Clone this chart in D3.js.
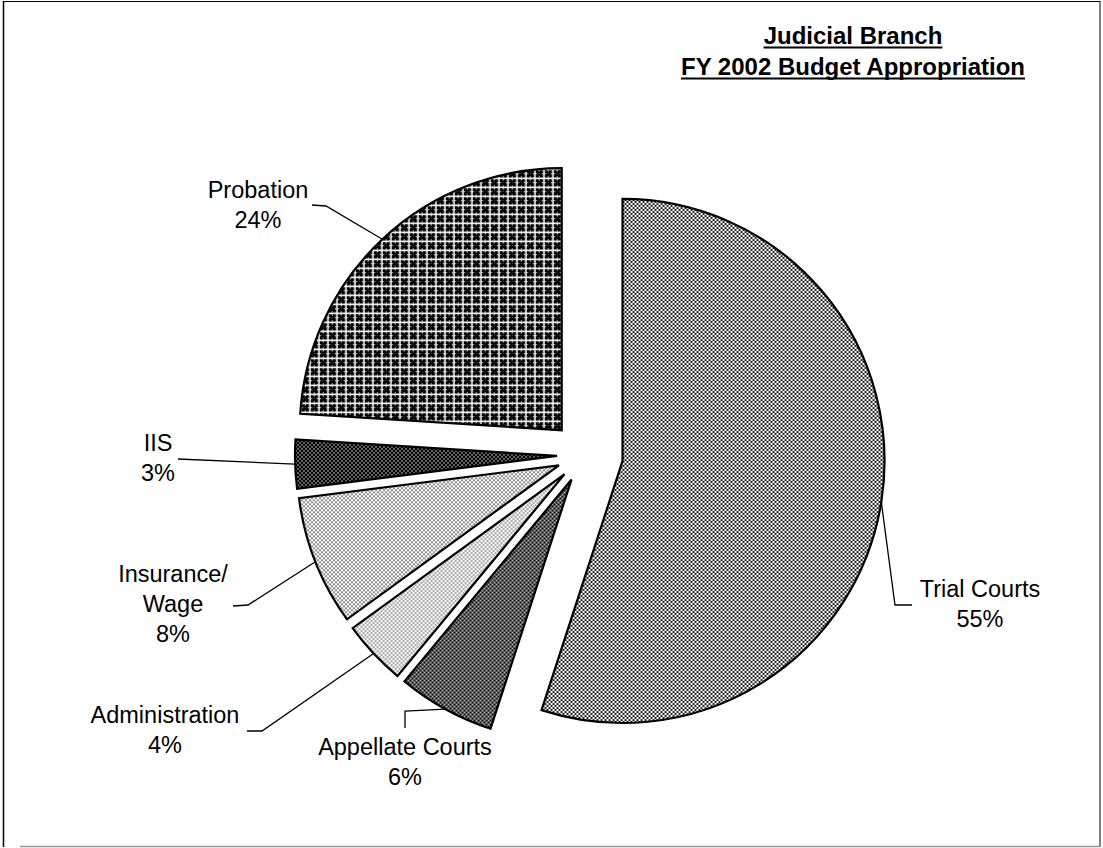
<!DOCTYPE html>
<html>
<head>
<meta charset="utf-8">
<script src="https://cdn.jsdelivr.net/npm/d3@7"></script>
<style>
  html, body { margin: 0; padding: 0; background: #fff; }
  svg { display: block; }
  text { font-family: "Liberation Sans", Arial, Helvetica, sans-serif; fill: #000; }
</style>
</head>
<body>
<svg id="chart" width="1103" height="848"></svg>
<script>
// ---- data ----
const categories = ["Trial Courts", "Appellate Courts", "Administration", "Insurance/ Wage", "IIS", "Probation"];
const values = [55, 6, 4, 8, 3, 24];
const labelLines = [["Trial Courts", "55%"], ["Appellate Courts", "6%"], ["Administration", "4%"],
                    ["Insurance/", "Wage", "8%"], ["IIS", "3%"], ["Probation", "24%"]];
const titleLines = ["Judicial Branch", "FY 2002 Budget Appropriation"];

// ---- layout / style (not data) ----
const center = [585, 455];
const radius = 262;
const explode = [38, 28, 28, 28, 28, 34];
const patterns = ["pTrial", "pAppellate", "pAdmin", "pInsurance", "pIIS", "pProbation"];
// label text position (x centre, first baseline), elbow point, end point
const labelLayout = [
  { tx: 980, ty: 597, elbow: [895, 605], end: [912, 605] },
  { tx: 405, ty: 755, elbow: [405, 711], end: [405, 728] },
  { tx: 165, ty: 723, elbow: [262, 731], end: [247, 731] },
  { tx: 173, ty: 582, elbow: [248, 605], end: [233, 606] },
  { tx: 158, ty: 451, elbow: null,       end: [178, 459] },
  { tx: 258, ty: 198, elbow: [326, 206], end: [312, 205] }
];
const lineGap = 30;
const labelFont = 23.5;

const svg = d3.select("#chart");
const defs = svg.append("defs");

function dotPattern(id, bg, fg, r) {
  const p = defs.append("pattern").attr("id", id).attr("patternUnits", "userSpaceOnUse")
    .attr("width", 4).attr("height", 4);
  p.append("rect").attr("width", 4).attr("height", 4).attr("fill", bg);
  [[1, 1], [3, 3]].forEach(([x, y]) =>
    p.append("circle").attr("cx", x).attr("cy", y).attr("r", r).attr("fill", fg));
}
dotPattern("pTrial", "#fff", "#000", 1.05);
dotPattern("pAppellate", "#000", "#fff", 0.95);
dotPattern("pIIS", "#000", "#fff", 0.75);
dotPattern("pInsurance", "#fff", "#000", 0.8);
dotPattern("pAdmin", "#fff", "#000", 0.65);
{
  const p = defs.append("pattern").attr("id", "pProbation").attr("patternUnits", "userSpaceOnUse")
    .attr("width", 9).attr("height", 9);
  p.append("rect").attr("width", 9).attr("height", 9).attr("fill", "#fff");
  p.append("rect").attr("x", 1).attr("y", 1).attr("width", 7.4).attr("height", 7.4).attr("fill", "#000");
  [[4.2, 1, 0.8, 1.4], [4.2, 7, 0.8, 1.4], [1, 4.2, 1.4, 0.8], [7, 4.2, 1.4, 0.8]].forEach(([x, y, w, h]) =>
    p.append("rect").attr("x", x).attr("y", y).attr("width", w).attr("height", h).attr("fill", "#fff"));
  p.append("rect").attr("x", 4.2).attr("y", 4.2).attr("width", 0.8).attr("height", 0.8).attr("fill", "#777");
}

// frame
svg.append("line").attr("x1", 3.5).attr("y1", 1).attr("x2", 3.5).attr("y2", 847).attr("stroke", "#000").attr("stroke-width", 1.5);
svg.append("line").attr("x1", 3.5).attr("y1", 1.5).attr("x2", 1100).attr("y2", 1.5).attr("stroke", "#000").attr("stroke-width", 1);
svg.append("line").attr("x1", 1100).attr("y1", 1).attr("x2", 1100).attr("y2", 847).attr("stroke", "#000").attr("stroke-width", 1);
svg.append("line").attr("x1", 20).attr("y1", 846.5).attr("x2", 1100).attr("y2", 846.5).attr("stroke", "#999").attr("stroke-width", 1.5);

// title
const title = svg.append("g");
titleLines.forEach((t, i) => {
  const y = 44 + i * 31;
  const txt = title.append("text").attr("x", 853).attr("y", y).attr("text-anchor", "middle")
    .attr("font-size", 24).attr("font-weight", "bold").text(t);
  const w = txt.node().getComputedTextLength();
  title.append("line").attr("x1", 853 - w / 2).attr("x2", 853 + w / 2)
    .attr("y1", y + 3.5).attr("y2", y + 3.5).attr("stroke", "#000").attr("stroke-width", 2);
});

// pie
const pie = d3.pie().sort(null).value(d => d)(values);
const arc = d3.arc().innerRadius(0).outerRadius(radius);
const g = svg.append("g").attr("transform", `translate(${center[0]},${center[1]})`);

pie.forEach((d, i) => {
  const mid = (d.startAngle + d.endAngle) / 2;
  const ox = explode[i] * Math.sin(mid), oy = -explode[i] * Math.cos(mid);
  g.append("path").attr("d", arc(d)).attr("transform", `translate(${ox},${oy})`)
    .attr("fill", `url(#${patterns[i]})`).attr("stroke", "#000").attr("stroke-width", 2.2)
    .attr("stroke-linejoin", "miter");

  // leader line from arc midpoint
  const ax = center[0] + ox + radius * Math.sin(mid);
  const ay = center[1] + oy - radius * Math.cos(mid);
  const L = labelLayout[i];
  const pts = [[ax, ay]];
  if (L.elbow) pts.push(L.elbow);
  pts.push(L.end);
  svg.append("path").attr("d", d3.line()(pts)).attr("fill", "none")
    .attr("stroke", "#000").attr("stroke-width", 1.3);

  labelLines[i].forEach((s, k) => {
    svg.append("text").attr("x", L.tx).attr("y", L.ty + k * lineGap)
      .attr("text-anchor", "middle").attr("font-size", labelFont).text(s);
  });
});
</script>
</body>
</html>
